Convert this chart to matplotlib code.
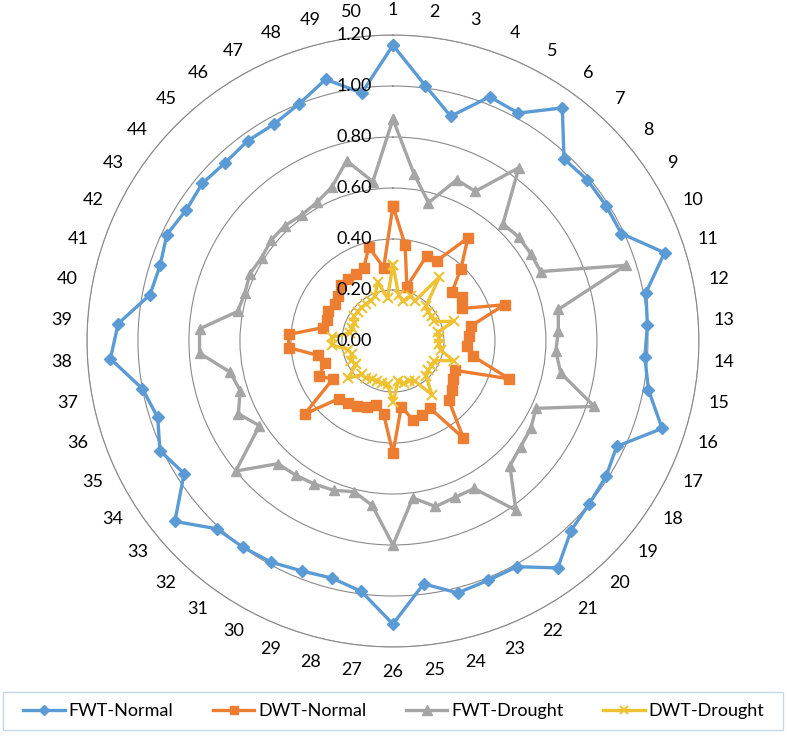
import numpy as np
import matplotlib.pyplot as plt
from matplotlib.patches import Rectangle

plt.rcParams['font.family'] = ['Lato', 'DejaVu Sans']

# categories 1..50
categories = [str(i) for i in range(1, 51)]

fwt_normal = [1.16, 1.01, 0.91, 1.03, 1.02, 1.13, 0.98, 0.99, 0.99, 0.99,
              1.12, 1.01, 1.00, 0.99, 1.02, 1.11, 0.97, 0.99, 1.00, 1.02,
              1.10, 1.01, 1.01, 1.02, 0.96, 1.11, 0.99, 0.96, 0.97, 0.99,
              1.00, 1.01, 1.11, 0.97, 1.01, 0.97, 1.00, 1.11, 1.08, 0.97,
              0.96, 0.98, 0.96, 0.97, 0.96, 0.97, 0.97, 1.00, 1.06, 0.98]

dwt_normal = [0.53, 0.38, 0.22, 0.36, 0.36, 0.50, 0.39, 0.30, 0.32, 0.30,
              0.46, 0.31, 0.30, 0.29, 0.32, 0.48, 0.27, 0.28, 0.30, 0.32,
              0.47, 0.30, 0.31, 0.32, 0.26, 0.44, 0.29, 0.26, 0.28, 0.29,
              0.30, 0.31, 0.45, 0.28, 0.32, 0.28, 0.30, 0.41, 0.41, 0.28,
              0.27, 0.28, 0.27, 0.28, 0.30, 0.30, 0.30, 0.31, 0.38, 0.29]

fwt_drought = [0.87, 0.66, 0.56, 0.68, 0.67, 0.84, 0.63, 0.64, 0.64, 0.64,
               0.96, 0.66, 0.65, 0.64, 0.67, 0.83, 0.62, 0.64, 0.65, 0.67,
               0.82, 0.66, 0.66, 0.67, 0.62, 0.80, 0.65, 0.61, 0.63, 0.64,
               0.65, 0.66, 0.80, 0.62, 0.67, 0.63, 0.65, 0.76, 0.76, 0.62,
               0.61, 0.62, 0.61, 0.62, 0.62, 0.61, 0.62, 0.65, 0.73, 0.63]

dwt_drought = [0.30, 0.18, 0.16, 0.19, 0.18, 0.31, 0.19, 0.18, 0.18, 0.18,
               0.25, 0.18, 0.18, 0.18, 0.19, 0.25, 0.18, 0.18, 0.18, 0.19,
               0.26, 0.18, 0.17, 0.17, 0.16, 0.24, 0.17, 0.17, 0.17, 0.17,
               0.18, 0.18, 0.23, 0.17, 0.18, 0.17, 0.18, 0.24, 0.24, 0.17,
               0.17, 0.17, 0.18, 0.18, 0.18, 0.18, 0.18, 0.19, 0.24, 0.17]

series_names = ['FWT-Normal', 'DWT-Normal', 'FWT-Drought', 'DWT-Drought']
r_ticks = [0.0, 0.2, 0.4, 0.6, 0.8, 1.0, 1.2]

styles = [
    dict(color='#5B9BD5', marker='D', ms=6),
    dict(color='#ED7D31', marker='s', ms=7),
    dict(color='#A5A5A5', marker='^', ms=7.5),
    dict(color='#EEC232', marker='x', ms=7, mew=1.5),
]

n = len(categories)
theta = np.arange(n) * 2 * np.pi / n
theta_c = np.append(theta, theta[0])

fig = plt.figure(figsize=(7.87, 7.39), dpi=100)
ax = fig.add_axes([0.1105, 0.1245, 0.7776, 0.8281], projection='polar')
ax.set_theta_zero_location('N')
ax.set_theta_direction(-1)
ax.set_ylim(0, 1.2)

handles = []
for vals, name, st in zip([fwt_normal, dwt_normal, fwt_drought, dwt_drought], series_names, styles):
    v = np.append(vals, vals[0])
    ln, = ax.plot(theta_c, v, lw=2.4, label=name, clip_on=False, **st)
    handles.append(ln)

# grid: circles only, no spokes
ax.set_yticks(r_ticks)
ax.set_yticklabels([])
ax.yaxis.grid(True, color='#8a8a8a', lw=0.8)
ax.xaxis.grid(False)
ax.set_xticks([])
ax.spines['polar'].set_color('#8a8a8a')
ax.spines['polar'].set_linewidth(0.8)

for r in r_ticks:
    ax.annotate('%.2f' % r, xy=(0, r), xytext=(-15, 0), textcoords='offset points',
                ha='right', va='center', fontsize=13, color='black')

for t, lab in zip(theta, categories):
    ax.text(t, 1.3, lab, ha='center', va='center', fontsize=13, clip_on=False)

# legend box
fig.patches.append(Rectangle((3 / 787, 9 / 739), 780 / 787, 38 / 739, transform=fig.transFigure,
                             fill=False, edgecolor='#c6d6e8', lw=1))
fig.legend(handles=handles, loc='center', bbox_to_anchor=(0.5, 28 / 739), ncol=4, frameon=False,
           fontsize=13, handlelength=2.3, columnspacing=2.2, handletextpad=0.2, markerscale=0.9)

fig.savefig('out.png', dpi=100)
